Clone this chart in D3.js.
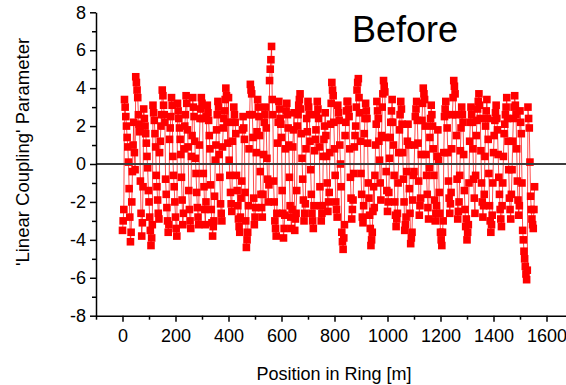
<!DOCTYPE html>
<html>
<head>
<meta charset="utf-8">
<script src="https://cdn.jsdelivr.net/npm/d3@7"></script>
<style>
  body { margin: 0; background: #fff; }
  svg { display: block; font-family: Arial, "Liberation Sans", sans-serif; }
</style>
</head>
<body>
<svg id="chart"></svg>
<script>
// position along the ring [m]
var positions = [
  0, 2.5, 5, 7.5, 10, 12.5, 15, 17.5, 20, 22.5, 25, 27.5, 30, 32.5, 35, 37.5, 40, 42.5, 45, 47.5,
  50, 52.5, 55, 57.5, 60, 62.5, 65, 67.5, 70, 72.5, 75, 77.5, 80, 82.5, 85, 87.5, 90, 92.5, 95, 97.5,
  100, 102.5, 105, 107.5, 110, 112.5, 115, 117.5, 120, 122.5, 125, 127.5, 130, 132.5, 135, 137.5, 140, 142.5, 145, 147.5,
  150, 152.5, 155, 157.5, 160, 162.5, 165, 167.5, 170, 172.5, 175, 177.5, 180, 182.5, 185, 187.5, 190, 192.5, 195, 197.5,
  200, 202.5, 205, 207.5, 210, 212.5, 215, 217.5, 220, 222.5, 225, 227.5, 230, 232.5, 235, 237.5, 240, 242.5, 245, 247.5,
  250, 252.5, 255, 257.5, 260, 262.5, 265, 267.5, 270, 272.5, 275, 277.5, 280, 282.5, 285, 287.5, 290, 292.5, 295, 297.5,
  300, 302.5, 305, 307.5, 310, 312.5, 315, 317.5, 320, 322.5, 325, 327.5, 330, 332.5, 335, 337.5, 340, 342.5, 345, 347.5,
  350, 352.5, 355, 357.5, 360, 362.5, 365, 367.5, 370, 372.5, 375, 377.5, 380, 382.5, 385, 387.5, 390, 392.5, 395, 397.5,
  400, 402.5, 405, 407.5, 410, 412.5, 415, 417.5, 420, 422.5, 425, 427.5, 430, 432.5, 435, 437.5, 440, 442.5, 445, 447.5,
  450, 452.5, 455, 457.5, 460, 462.5, 465, 467.5, 470, 472.5, 475, 477.5, 480, 482.5, 485, 487.5, 490, 492.5, 495, 497.5,
  500, 502.5, 505, 507.5, 510, 512.5, 515, 517.5, 520, 522.5, 525, 527.5, 530, 532.5, 535, 537.5, 540, 542.5, 545, 547.5,
  550, 552.5, 555, 557.5, 560, 562.5, 565, 567.5, 570, 572.5, 575, 577.5, 580, 582.5, 585, 587.5, 590, 592.5, 595, 597.5,
  600, 602.5, 605, 607.5, 610, 612.5, 615, 617.5, 620, 622.5, 625, 627.5, 630, 632.5, 635, 637.5, 640, 642.5, 645, 647.5,
  650, 652.5, 655, 657.5, 660, 662.5, 665, 667.5, 670, 672.5, 675, 677.5, 680, 682.5, 685, 687.5, 690, 692.5, 695, 697.5,
  700, 702.5, 705, 707.5, 710, 712.5, 715, 717.5, 720, 722.5, 725, 727.5, 730, 732.5, 735, 737.5, 740, 742.5, 745, 747.5,
  750, 752.5, 755, 757.5, 760, 762.5, 765, 767.5, 770, 772.5, 775, 777.5, 780, 782.5, 785, 787.5, 790, 792.5, 795, 797.5,
  800, 802.5, 805, 807.5, 810, 812.5, 815, 817.5, 820, 822.5, 825, 827.5, 830, 832.5, 835, 837.5, 840, 842.5, 845, 847.5,
  850, 852.5, 855, 857.5, 860, 862.5, 865, 867.5, 870, 872.5, 875, 877.5, 880, 882.5, 885, 887.5, 890, 892.5, 895, 897.5,
  900, 902.5, 905, 907.5, 910, 912.5, 915, 917.5, 920, 922.5, 925, 927.5, 930, 932.5, 935, 937.5, 940, 942.5, 945, 947.5,
  950, 952.5, 955, 957.5, 960, 962.5, 965, 967.5, 970, 972.5, 975, 977.5, 980, 982.5, 985, 987.5, 990, 992.5, 995, 997.5,
  1000, 1002.5, 1005, 1007.5, 1010, 1012.5, 1015, 1017.5, 1020, 1022.5, 1025, 1027.5, 1030, 1032.5, 1035, 1037.5, 1040, 1042.5, 1045, 1047.5,
  1050, 1052.5, 1055, 1057.5, 1060, 1062.5, 1065, 1067.5, 1070, 1072.5, 1075, 1077.5, 1080, 1082.5, 1085, 1087.5, 1090, 1092.5, 1095, 1097.5,
  1100, 1102.5, 1105, 1107.5, 1110, 1112.5, 1115, 1117.5, 1120, 1122.5, 1125, 1127.5, 1130, 1132.5, 1135, 1137.5, 1140, 1142.5, 1145, 1147.5,
  1150, 1152.5, 1155, 1157.5, 1160, 1162.5, 1165, 1167.5, 1170, 1172.5, 1175, 1177.5, 1180, 1182.5, 1185, 1187.5, 1190, 1192.5, 1195, 1197.5,
  1200, 1202.5, 1205, 1207.5, 1210, 1212.5, 1215, 1217.5, 1220, 1222.5, 1225, 1227.5, 1230, 1232.5, 1235, 1237.5, 1240, 1242.5, 1245, 1247.5,
  1250, 1252.5, 1255, 1257.5, 1260, 1262.5, 1265, 1267.5, 1270, 1272.5, 1275, 1277.5, 1280, 1282.5, 1285, 1287.5, 1290, 1292.5, 1295, 1297.5,
  1300, 1302.5, 1305, 1307.5, 1310, 1312.5, 1315, 1317.5, 1320, 1322.5, 1325, 1327.5, 1330, 1332.5, 1335, 1337.5, 1340, 1342.5, 1345, 1347.5,
  1350, 1352.5, 1355, 1357.5, 1360, 1362.5, 1365, 1367.5, 1370, 1372.5, 1375, 1377.5, 1380, 1382.5, 1385, 1387.5, 1390, 1392.5, 1395, 1397.5,
  1400, 1402.5, 1405, 1407.5, 1410, 1412.5, 1415, 1417.5, 1420, 1422.5, 1425, 1427.5, 1430, 1432.5, 1435, 1437.5, 1440, 1442.5, 1445, 1447.5,
  1450, 1452.5, 1455, 1457.5, 1460, 1462.5, 1465, 1467.5, 1470, 1472.5, 1475, 1477.5, 1480, 1482.5, 1485, 1487.5, 1490, 1492.5, 1495, 1497.5,
  1500, 1502.5, 1505, 1507.5, 1510, 1512.5, 1515, 1517.5, 1520, 1522.5, 1525, 1527.5, 1530, 1532.5, 1535, 1537.5, 1540, 1542.5, 1545, 1547.5,
  1550, 1552.5, 1555
];

// 'Linear Coupling' parameter
var coupling = [
  -3.5, -3.0, -2.4, 3.4, 3.0, 2.5, 2.0, 1.4, 0.9, 0.1, -1.3, -2.8, -4.1, -3.6, -2.0, -0.4, 1.0, 2.2, 0.6, -0.3,
  4.6, 4.3, 3.9, 3.5, 2.6, 2.1, 1.7, -0.9, -2.6, -3.8, -3.1, -1.2, 2.9, 2.4, 2.0, 1.6, 1.1, 0.4, -0.2, -1.4,
  -2.0, -2.8, -3.5, -4.3, -3.9, -3.2, 3.1, 2.7, 2.3, 1.6, 0.9, -0.6, -1.2, -1.9, -2.6, -2.9, 0.6, 1.2, 2.0, 2.6,
  3.9, 3.6, 3.1, 2.6, 2.2, -0.8, -1.6, -2.3, -3.0, -3.6, -3.2, 1.3, 1.9, 2.5, 3.5, 3.1, 0.4, -0.6, -1.2, -2.0,
  -2.8, -3.4, -3.8, 3.2, 2.8, 2.4, 1.9, 1.3, 0.5, -0.7, -1.9, -3.2, -2.6, 0.8, 2.0, 2.6, 3.6, 3.2, 1.8, 0.9,
  -1.4, -2.4, -3.0, -3.4, 0.4, 1.5, 3.5, 3.0, 2.5, 1.2, 0.3, -0.5, -1.5, -2.3, -2.8, -3.2, 1.0, 2.4, 2.9, 3.5,
  3.2, 2.4, -0.5, -1.2, -2.4, -3.2, -2.0, 2.5, 3.1, 2.7, 2.3, 1.5, 0.8, -1.1, -2.4, -3.1, -3.8, -3.3, -3.0, -1.7,
  0.2, 1.0, 1.8, 2.6, 3.3, 3.0, 0.5, -0.7, -2.1, -2.6, -3.0, 0.9, 1.9, 2.4, 2.8, 3.4, 4.0, 3.6, 2.2, 1.1,
  3.5, 0.2, -0.6, -1.5, -2.1, -2.5, 1.2, 2.2, 3.0, 2.6, 2.2, 1.6, -0.6, -1.4, -2.2, -2.9, -3.3, -3.6, -2.8, -1.8,
  -0.9, 1.8, 2.5, 1.9, 1.3, -1.5, -3.0, -4.4, -4.0, -3.6, -2.2, 0.8, 2.6, 4.2, 3.9, 3.7, 2.6, 1.4, -1.8, -3.2,
  -2.8, -2.3, 0.6, 1.7, 3.4, 3.0, 2.5, 1.5, -0.4, -1.6, -2.3, -2.8, -1.6, 0.5, 2.2, 2.6, 3.0, 1.9, 0.3, -0.8,
  -2.0, -1.1, 4.4, 5.0, 5.5, 6.2, 3.4, 2.6, -0.9, -2.0, -3.0, -3.4, -3.8, -2.6, 1.1, 2.2, 3.3, 2.9, 2.4, 2.1,
  1.4, -1.4, -2.6, -3.9, -3.4, -2.7, 0.8, 2.8, 3.2, 2.6, 1.9, 1.0, -0.7, -2.2, -2.8, -3.4, -2.4, 0.9, 1.8, 2.7,
  -3.5, -2.9, -2.6, -1.4, 2.0, 2.6, 3.1, 3.4, 3.7, 2.9, 1.6, 0.3, -0.8, -1.9, -3.0, -2.6, -2.1, 0.8, 2.4, 1.7,
  3.3, 3.0, 2.6, 1.2, -0.3, -1.6, -2.6, -3.0, -3.4, -2.2, 0.7, 1.3, 1.8, 2.6, 3.3, 2.9, 2.4, 0.9, -1.2, -2.2,
  -3.0, -2.6, -2.2, 0.4, 1.3, 2.0, 2.7, 1.5, 0.4, -1.0, -2.5, -2.0, -1.5, 0.6, 2.1, 3.2, 4.3, 3.9, 3.6, 2.2,
  0.8, -0.6, -2.0, -2.4, -2.8, 3.1, 2.7, 2.3, 1.0, 0.0, -1.2, -3.6, -4.1, -4.5, -3.9, -3.2, 1.5, 2.2, 2.8, 3.3,
  3.3, 2.9, 2.5, 0.8, -0.7, -1.8, -2.9, -2.4, -1.9, -0.5, 0.9, 1.5, 2.0, 3.0, 3.9, 4.3, 4.5, 3.5, 2.7, 1.2,
  -0.5, -1.6, -2.8, -3.1, -2.2, 1.6, 2.4, 3.2, 2.8, 2.4, 1.1, -1.0, -1.8, -2.7, -3.4, -4.3, -4.0, -3.6, -2.5, -1.2,
  -2.3, -0.6, 1.0, 2.1, 3.3, 2.8, 2.4, 1.2, 0.2, -1.0, -1.9, 1.5, 3.0, 3.7, 4.4, 4.1, 3.8, 1.4, -0.4, -1.4,
  -2.5, -2.0, -1.5, 0.3, 1.4, 2.2, 2.8, 3.4, 2.2, 1.0, -0.6, -2.0, -2.7, -3.3, -2.9, -2.6, -1.0, 0.6, 1.8, 2.6,
  3.3, 2.9, 2.1, 0.6, -0.8, -2.0, -3.5, -3.2, -2.8, -0.4, 1.2, 2.1, 1.0, -1.3, -2.6, -4.2, -3.9, -3.6, -1.9, -0.6,
  -0.4, 1.0, 2.5, 2.9, 3.3, 2.3, 1.1, -0.9, -2.7, -2.2, -1.8, 0.5, 2.3, 3.2, 4.0, 3.7, 3.4, 2.0, 0.5, -0.6,
  -1.6, -2.3, -2.9, -0.2, 1.4, 2.4, 3.1, 2.6, 2.0, 0.8, -0.6, -1.9, -3.0, -2.6, -2.2, 0.4, 1.8, 0.2, -1.5, -2.6,
  -3.6, -4.0, -4.3, -3.6, -3.0, 0.6, 2.5, 2.9, 3.3, 2.6, 1.9, 0.6, -0.9, -1.8, -2.6, -2.1, -1.5, 0.8, 2.6, 3.5,
  4.4, 4.1, 3.7, 2.6, 1.5, -0.8, -2.9, -2.5, -2.0, -0.6, 0.7, 1.9, 3.0, 2.6, 2.2, 0.5, -1.4, -2.4, -3.3, -2.9,
  -4.0, -3.6, -3.2, -1.0, 1.2, 2.2, 3.0, 2.6, 2.2, 0.8, -0.8, -1.8, -2.6, -0.6, 1.5, 2.3, 2.9, 3.3, 3.7, 3.1,
  2.4, 0.7, -1.0, -2.0, -2.8, -2.2, -1.6, 0.4, 2.0, 2.8, 3.4, 2.4, 1.3, -0.5, -2.2, -3.0, -3.6, -3.2, -2.7, -1.0,
  0.6, 1.5, 2.3, 2.7, 3.1, 2.4, 1.8, 0.5, -0.7, -1.6, -2.4, -2.9, -3.3, -2.2, -1.0, 0.4, 1.6, 2.1, 2.6, 3.0,
  3.5, 2.4, 1.2, -0.3, -1.8, -2.4, -2.9, -1.6, -0.3, 1.2, 2.4, 3.0, 3.6, 3.1, 2.6, 0.8, -0.9, -1.9, -2.7, -2.2,
  2.8, 2.2, 1.6, -1.0, -3.5, -4.0, -4.6, -5.0, -5.4, -5.8, -6.1, -5.6, 3.0, 2.4, 1.9, 0.1, -1.7, -2.4, -2.9, -3.2,
  -3.4, -2.4, -1.2
];

var xTicks = [0, 200, 400, 600, 800, 1000, 1200, 1400, 1600];
var yTicks = [-8, -6, -4, -2, 0, 2, 4, 6, 8];
var xMinor = [-100, 100, 300, 500, 700, 900, 1100, 1300, 1500, 1700];
var yMinor = [-7, -5, -3, -1, 1, 3, 5, 7];

var svgWidth = 566,
    svgHeight = 385;

var svg = d3.select('#chart')
    .attr('width', svgWidth)
    .attr('height', svgHeight)

var x = d3.scaleLinear().domain([-100, 1700]).range([96, 573]);
var y = d3.scaleLinear().domain([-8, 8]).range([315.7, 12.3]);

var points = positions.map(function(p, i) { return [p, coupling[i]]; });

// data: thin line then square markers
var line = d3.line()
    .x(function(d) { return x(d[0]); })
    .y(function(d) { return y(d[1]); })

svg.append('path')
  .datum(points)
  .attr('d', line)
  .attr('fill', 'none')
  .attr('stroke', '#ff0000')
  .attr('stroke-opacity', 0.7)
  .attr('stroke-width', 1)

var ms = 7.6; // marker size
svg.append('g')
  .selectAll('rect')
  .data(points)
  .enter()
  .append('rect')
  .attr('x', function(d) { return x(d[0]) - ms / 2; })
  .attr('y', function(d) { return y(d[1]) - ms / 2; })
  .attr('width', ms)
  .attr('height', ms)
  .attr('fill', '#ff0000')

// zero line sits on top of the markers
svg.append('line')
  .attr('x1', x(-100)).attr('x2', svgWidth)
  .attr('y1', y(0)).attr('y2', y(0))
  .attr('stroke', '#3c3c3c')
  .attr('stroke-width', 2)

// axes
svg.append('g')
  .attr('transform', 'translate(0,' + y(-8) + ')')
  .call(d3.axisBottom(x).tickValues(xTicks).tickSize(6).tickSizeOuter(0).tickPadding(8).tickFormat(String))
svg.append('g')
  .attr('transform', 'translate(0,' + y(-8) + ')')
  .call(d3.axisBottom(x).tickValues(xMinor).tickSize(4).tickFormat(''))
  .call(function(g) { g.select('.domain').remove(); })

svg.append('g')
  .attr('transform', 'translate(' + x(-100) + ',0)')
  .call(d3.axisLeft(y).tickValues(yTicks).tickSize(6).tickSizeOuter(0).tickPadding(4).tickFormat(String))
svg.append('g')
  .attr('transform', 'translate(' + x(-100) + ',0)')
  .call(d3.axisLeft(y).tickValues(yMinor).tickSize(4).tickFormat(''))
  .call(function(g) { g.select('.domain').remove(); })

svg.selectAll('.domain, .tick line')
  .attr('stroke', '#000')
  .attr('stroke-width', 1.5)
svg.selectAll('.tick text')
  .attr('fill', '#000')
  .style('font-size', '18px')
  .style('font-family', 'Arial, "Liberation Sans", sans-serif')

// labels
svg.append('text')
  .attr('x', 352)
  .attr('y', 42)
  .style('font-size', '36px')
  .text('Before')

svg.append('text')
  .attr('x', 334)
  .attr('y', 380)
  .attr('text-anchor', 'middle')
  .style('font-size', '18px')
  .text('Position in Ring [m]')

svg.append('text')
  .attr('transform', 'translate(29,152) rotate(-90)')
  .attr('text-anchor', 'middle')
  .style('font-size', '18.5px')
  .text("'Linear Coupling' Parameter")
</script>
</body>
</html>
